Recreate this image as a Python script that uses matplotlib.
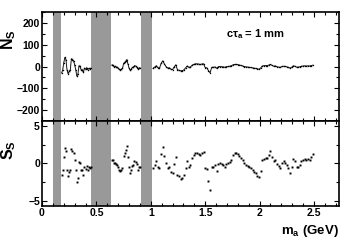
import matplotlib
matplotlib.use('Agg')
import matplotlib.pyplot as plt
from matplotlib.ticker import MultipleLocator
import numpy as np

plt.rcParams['font.family'] = ['Liberation Sans', 'DejaVu Sans']
plt.rcParams['font.weight'] = 'bold'
plt.rcParams['mathtext.fontset'] = 'custom'
plt.rcParams['mathtext.rm'] = 'Liberation Sans:bold'
plt.rcParams['mathtext.bf'] = 'Liberation Sans:bold'
plt.rcParams['mathtext.it'] = 'Liberation Sans:bold'

# vetoed mass regions (pi0, eta, eta')
vetoes = [(0.10, 0.175), (0.45, 0.63), (0.91, 1.01)]

# scan masses (GeV), one list per allowed region
mass_1 = [0.18, 0.19, 0.20, 0.21, 0.22, 0.23, 0.24, 0.25, 0.26, 0.27,
          0.28, 0.29, 0.30, 0.31, 0.32, 0.33, 0.34, 0.35, 0.36, 0.37,
          0.38, 0.39, 0.40, 0.41, 0.42, 0.43, 0.44, 0.45]
mass_2 = [0.64, 0.65, 0.66, 0.67, 0.68, 0.69, 0.70, 0.71, 0.72, 0.73,
          0.74, 0.75, 0.76, 0.77, 0.78, 0.79, 0.80, 0.81, 0.82, 0.83,
          0.84, 0.85, 0.86, 0.87, 0.88, 0.89, 0.90]
mass_3 = [1.020, 1.035, 1.050, 1.065, 1.080, 1.095, 1.110, 1.125, 1.140, 1.155,
          1.170, 1.185, 1.200, 1.215, 1.230, 1.245, 1.260, 1.275, 1.290, 1.305,
          1.320, 1.335, 1.350, 1.365, 1.380, 1.395, 1.410, 1.425, 1.440, 1.455,
          1.470, 1.485, 1.500, 1.515, 1.530, 1.545, 1.560, 1.575, 1.590, 1.605,
          1.620, 1.635, 1.650, 1.665, 1.680, 1.695, 1.710, 1.725, 1.740, 1.755,
          1.770, 1.785, 1.800, 1.815, 1.830, 1.845, 1.860, 1.875, 1.890, 1.905,
          1.920, 1.935, 1.950, 1.965, 1.980, 1.995, 2.010, 2.025, 2.040, 2.055,
          2.070, 2.085, 2.100, 2.115, 2.130, 2.145, 2.160, 2.175, 2.190, 2.205,
          2.220, 2.235, 2.250, 2.265, 2.280, 2.295, 2.310, 2.325, 2.340, 2.355,
          2.370, 2.385, 2.400, 2.415, 2.430, 2.445, 2.460, 2.475, 2.490]

# signal significance S_S
sig_1 = [-1.5, -0.8, 0.9, 2.1, 1.6, -0.8, -1.7, -1.1, -0.8, 1.9,
         1.7, 1.4, 0.4, -0.8, -2.4, -1.9, 0.2, 0.1, -0.9, -0.8,
         -1.5, -0.4, -0.7, -0.3, -0.8, -0.5, -0.6, -0.4]
sig_2 = [0.45, 0.5, 0.0, 0.1, -0.1, -0.2, -0.5, -0.9, -1.0, -0.8,
         -0.6, 1.0, 1.4, 1.8, 2.3, 0.8, -0.5, -1.2, -0.9, -0.3,
         -0.2, 0.3, 0.2, -0.1, -0.8, -0.5, -0.4]
sig_3 = [-0.6, -0.2, 0.3, -0.4, -0.6, 1.2, 2.2, 1.0, 0.0, -0.6,
         -0.5, -1.1, -1.3, -0.1, 0.8, -1.5, -1.7, -2.0, -1.9, -1.5,
         -0.6, 0.3, -0.4, -0.2, 0.7, 1.1, 1.4, 1.4, 1.3, 1.1,
         1.4, 1.5, -0.6, -0.7, -2.3, -3.5, -0.4, -0.4, -0.2, -1.0,
         -0.1, 0.0, -0.1, -0.2, -0.4, -0.1, 0.1, 0.2, 0.5, 1.1,
         1.35, 1.4, 1.2, 1.0, 0.7, 0.4, 0.0, -0.2, -0.3, -0.5,
         -0.6, -0.9, -1.1, -1.2, -1.6, -1.8, -1.0, 0.45, 0.6, 0.7,
         0.75, 1.1, 1.6, 0.8, 0.3, 0.45, -0.1, -0.36, -0.6, 0.1,
         0.3, 0.1, -0.2, -0.6, -1.2, -0.5, 0.6, 0.3, -0.5, -0.4,
         -0.2, 0.3, 0.45, 0.6, 0.4, 0.6, 0.5, 0.8, 1.2]

# uncertainty on the fitted signal yield
err_1 = [20, 20, 20, 20, 20, 19.5, 19.5, 19.5, 19.5, 19,
         19, 19, 19, 19, 18.5, 18.5, 18.5, 18.5, 18, 18,
         18, 18, 18, 17.5, 17.5, 17.5, 17.5, 17.5]
err_2 = [15, 15, 15, 15, 15, 15, 14.5, 14.5, 14.5, 14.5,
         14.5, 14.5, 14, 14, 14, 14, 14, 14, 14, 13.5,
         13.5, 13.5, 13.5, 13.5, 13.5, 13.5, 13.5]
err_3 = [13, 13, 12.8, 12.6, 12.4, 12.2, 12, 11.8, 11.6, 11.4,
         11.2, 11, 10.8, 10.6, 10.4, 10.2, 10, 9.9, 9.8, 9.7,
         9.6, 9.5, 9.4, 9.3, 9.2, 9.1, 9, 8.9, 8.8, 8.7,
         8.6, 8.5, 8.4, 8.3, 8.2, 8.1, 8, 8, 7.9, 7.9,
         7.8, 7.8, 7.7, 7.7, 7.6, 7.6, 7.5, 7.5, 7.4, 7.4,
         7.3, 7.3, 7.2, 7.2, 7.1, 7.1, 7, 7, 6.9, 6.9,
         6.8, 6.8, 6.7, 6.7, 6.6, 6.6, 6.5, 6.5, 6.5, 6.4,
         6.4, 6.4, 6.3, 6.3, 6.3, 6.2, 6.2, 6.2, 6.1, 6.1,
         6.1, 6, 6, 6, 6, 5.9, 5.9, 5.9, 5.9, 5.8,
         5.8, 5.8, 5.8, 5.7, 5.7, 5.7, 5.7, 5.6, 5.6]

segments = [(mass_1, sig_1, err_1), (mass_2, sig_2, err_2), (mass_3, sig_3, err_3)]

fig = plt.figure(figsize=(3.57, 2.42), dpi=100)
ax1 = fig.add_axes([0.1176, 0.5, 0.832, 0.45])
ax2 = fig.add_axes([0.1176, 0.149, 0.832, 0.351])

for ax in (ax1, ax2):
    for lo, hi in vetoes:
        ax.axvspan(lo, hi, color='#999999', lw=0, zorder=1)

for m, s, e in segments:
    m = np.array(m)
    s = np.array(s)
    e = np.array(e)
    ns = s * e
    ax1.fill_between(m, ns - 0.45 * e, ns + 0.45 * e, color='#d0d0d0', lw=0, zorder=2)
    ax1.plot(m, ns, color='black', lw=0.6, marker='s', ms=0.9, mew=0, zorder=3)
    ax2.plot(m, s, ls='none', color='black', marker='s', ms=1.4, mew=0, zorder=3)

ax1.set_xlim(0, 2.73)
ax2.set_xlim(0, 2.73)
ax1.set_ylim(-250, 250)
ax2.set_ylim(-5.6, 5.6)

ax1.yaxis.set_major_locator(MultipleLocator(100))
ax1.yaxis.set_minor_locator(MultipleLocator(50))
ax2.yaxis.set_major_locator(MultipleLocator(5))
ax2.yaxis.set_minor_locator(MultipleLocator(2.5))
for ax in (ax1, ax2):
    ax.xaxis.set_major_locator(MultipleLocator(0.5))
    ax.xaxis.set_minor_locator(MultipleLocator(0.1))
    ax.tick_params(which='both', direction='in', top=True, right=True,
                   width=0.8, labelsize=7.5, pad=1.5)
    ax.tick_params(which='major', length=3.5)
    ax.tick_params(which='minor', length=2)
    for sp in ax.spines.values():
        sp.set_linewidth(1.2)
ax1.tick_params(labelbottom=False)
ax2.set_xticks([0, 0.5, 1, 1.5, 2, 2.5])
ax2.set_xticklabels(['0', '0.5', '1', '1.5', '2', '2.5'])

ax1.set_ylabel(r'$\mathrm{N}_{\mathrm{S}}$', fontsize=11.5)
ax1.yaxis.set_label_coords(-0.082, 0.75)
ax2.set_ylabel(r'$\mathrm{S}_{\mathrm{S}}$', fontsize=11.5)
ax2.yaxis.set_label_coords(-0.082, 0.66)
ax2.set_xlabel(r'$\mathrm{m}_{\mathrm{a}}$ (GeV)', fontsize=9.5, fontweight='bold')
ax2.xaxis.set_label_coords(1.0, -0.2)
ax2.xaxis.label.set_horizontalalignment('right')

ax1.text(0.62, 0.8, r'c$\tau_{\mathrm{a}}$ = 1 mm', transform=ax1.transAxes,
         fontsize=8, fontweight='bold', ha='left', va='center')

fig.savefig('out.png', dpi=100)
